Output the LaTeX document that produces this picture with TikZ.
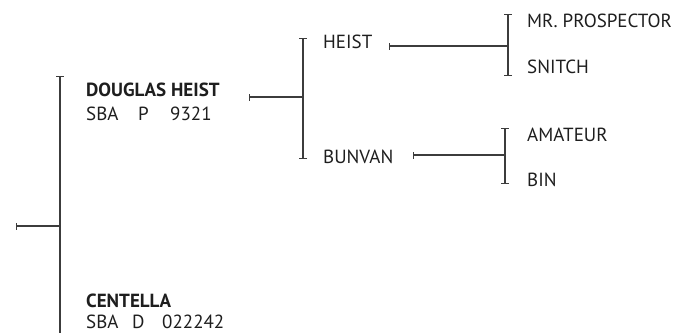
\documentclass[tikz,border=0pt]{standalone}
\usepackage{fontspec}
\setmainfont{PT Sans}
\usepackage{tikz}
\usetikzlibrary{arrows.meta, positioning}
\definecolor{pedline}{RGB}{60,60,60}
\definecolor{pedtext}{RGB}{30,30,30}
% registration line: breed, gap, sex, gap, number
\newcommand{\idline}[5]{\makebox[#2][l]{#1}\makebox[#4][l]{#3}#5}

\begin{document}
\begin{tikzpicture}[
  x=1pt, y=-1pt,
  every node/.style={font=\fontsize{19}{22}\selectfont, text=pedtext,
                     inner sep=0pt, anchor=base west},
  sire/.style={font=\fontsize{19}{22}\selectfont\bfseries},
  link/.style={draw=pedline, line width=1.2pt},
  stub/.style={link, {Bar[width=7pt,line width=1.1pt]}-},
  bracket/.style={link, {Bar[width=8pt,line width=1.1pt]}-{Bar[width=8pt,line width=1.1pt]}},
]
\useasboundingbox (0,0) rectangle (676,333);

% ── First generation ──
\coordinate (root) at (16,226);
\coordinate (g1top) at (60,76);
\coordinate (g1mid) at (60,226);
\coordinate (g1bot) at (60,333);
\draw[stub] (root) -- (g1mid);
\draw[link, {Bar[width=8pt,line width=1.1pt]}-] (g1top) -- (g1bot);
\node[sire] (sire) at (86,96) {DOUGLAS HEIST};
\node (sireid) at (86,120) {\idline{SBA}{52pt}{P}{32pt}{9321}};
\node[sire] (dam) at (86,307) {CENTELLA};
\node (damid) at (86,328) {\idline{SBA}{46pt}{D}{30pt}{022242}};

% ── Second generation ──
\coordinate (s0) at (249,97);
\coordinate (s1) at (303,97);
\coordinate (s1top) at (303,38);
\coordinate (s1bot) at (303,159);
\draw[stub] (s0) -- (s1);
\draw[bracket] (s1top) -- (s1bot);
\node (ss) at (323,48) {HEIST};
\node (sd) at (323,163) {BUNVAN};

% ── Third generation ──
\coordinate (ss0) at (389,46);
\coordinate (ss1) at (508,46);
\coordinate (ss1top) at (508,14);
\coordinate (ss1bot) at (508,76);
\draw[stub] (ss0) -- (ss1);
\draw[bracket] (ss1top) -- (ss1bot);
\node (sss) at (527,27) {MR. PROSPECTOR};
\node (ssd) at (527,73) {SNITCH};

\coordinate (sd0) at (413,155);
\coordinate (sd1) at (505,155);
\coordinate (sd1top) at (505,128);
\coordinate (sd1bot) at (505,184);
\draw[stub] (sd0) -- (sd1);
\draw[bracket] (sd1top) -- (sd1bot);
\node (sds) at (527,141) {AMATEUR};
\node (sdd) at (527,186) {BIN};

\end{tikzpicture}
\end{document}
